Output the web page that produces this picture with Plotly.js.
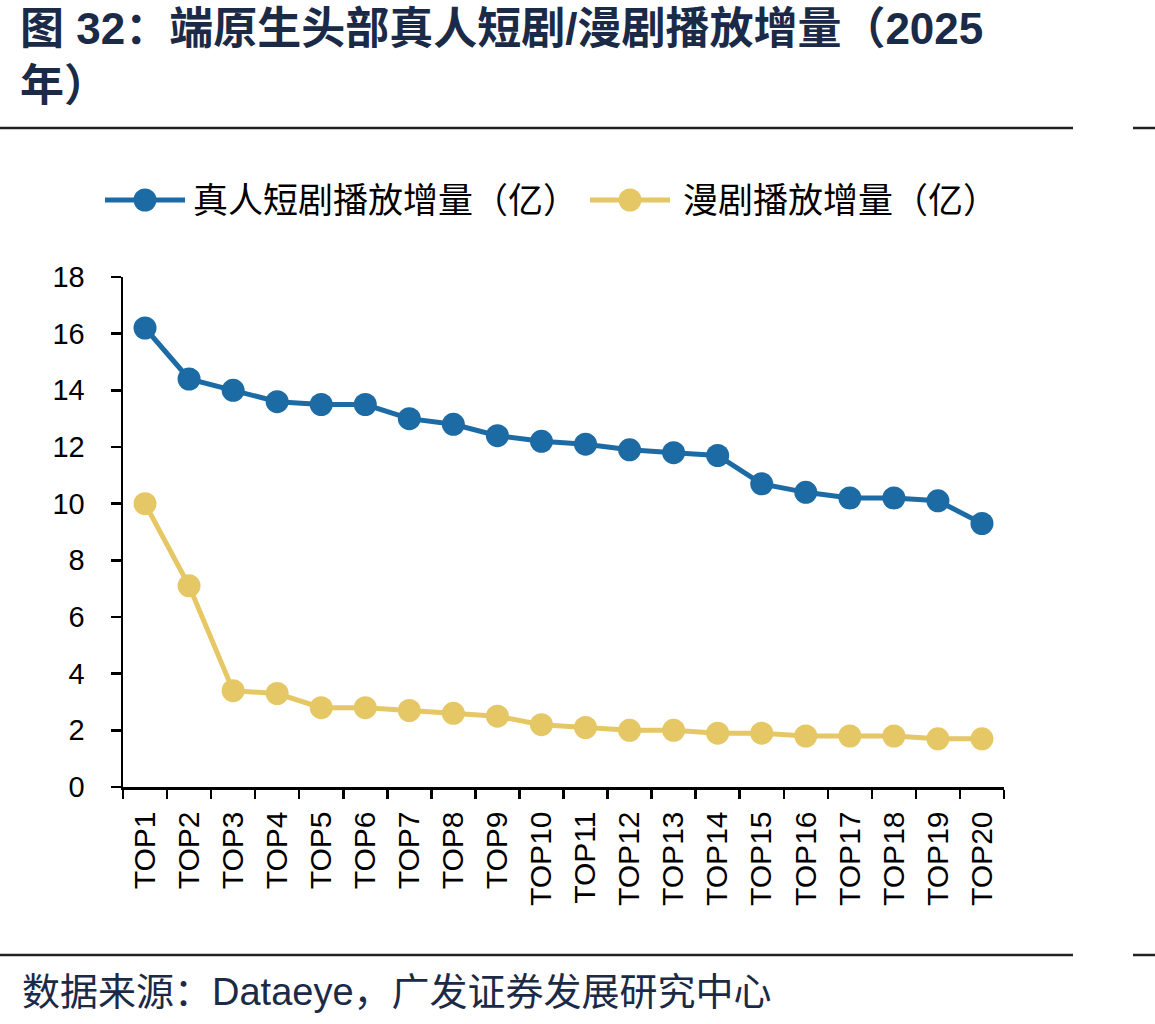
<!DOCTYPE html>
<html>
<head>
<meta charset="utf-8">
<script src="https://cdn.plot.ly/plotly-3.0.1.min.js"></script>
<style>
  html, body { margin: 0; padding: 0; background: #ffffff; }
  #chart { width: 1155px; height: 1024px; }
</style>
</head>
<body>
<div id="chart"></div>
<script>
// ---- Data ----
const categories = ["TOP1","TOP2","TOP3","TOP4","TOP5","TOP6","TOP7","TOP8","TOP9","TOP10",
                    "TOP11","TOP12","TOP13","TOP14","TOP15","TOP16","TOP17","TOP18","TOP19","TOP20"];
const liveActionViews = [16.2,14.4,14.0,13.6,13.5,13.5,13.0,12.8,12.4,12.2,
                         12.1,11.9,11.8,11.7,10.7,10.4,10.2,10.2,10.1,9.3];
const animeViews = [10.0,7.1,3.4,3.3,2.8,2.8,2.7,2.6,2.5,2.2,
                    2.1,2.0,2.0,1.9,1.9,1.8,1.8,1.8,1.7,1.7];
const seriesNames = ["真人短剧播放增量（亿）", "漫剧播放增量（亿）"];
const yTickValues = [0,2,4,6,8,10,12,14,16,18];
const titleText = "<b>图 32：端原生头部真人短剧/漫剧播放增量（2025<br>年）</b>";
const sourceText = "数据来源：Dataeye，广发证券发展研究中心";

// ---- Style ----
const BLUE = "#1c6ba5";
const YELLOW = "#e5c865";
const NAVY = "#1b2a47";
const CJK = "'Liberation Sans', Arial, 'Noto Sans CJK SC', sans-serif";

const W = 1155, H = 1024;
const M = { l: 123, r: 151, t: 277, b: 237 };
const PW = W - M.l - M.r, PH = H - M.t - M.b;
const px = x => (x - M.l) / PW;           // pixel x -> paper x
const py = y => (H - M.b - y) / PH;       // pixel y -> paper y

const traces = [
  {
    x: categories, y: liveActionViews, name: seriesNames[0],
    type: "scatter", mode: "lines+markers",
    line: { color: BLUE, width: 5 },
    marker: { color: BLUE, size: 23 },
    showlegend: false, cliponaxis: false
  },
  {
    x: categories, y: animeViews, name: seriesNames[1],
    type: "scatter", mode: "lines+markers",
    line: { color: YELLOW, width: 5 },
    marker: { color: YELLOW, size: 23 },
    showlegend: false, cliponaxis: false
  }
];

function legendShapes(x0, x1, yPix, color) {
  return [
    { type: "line", xref: "paper", yref: "paper",
      x0: px(x0), x1: px(x1), y0: py(yPix), y1: py(yPix),
      line: { color: color, width: 5 } },
    { type: "circle", xref: "paper", yref: "paper",
      xsizemode: "pixel", ysizemode: "pixel",
      xanchor: px((x0 + x1) / 2), yanchor: py(yPix),
      x0: -11.5, x1: 11.5, y0: -11.5, y1: 11.5,
      fillcolor: color, line: { width: 0 } }
  ];
}

const shapes = [
  // top rule
  { type: "line", xref: "paper", yref: "paper", x0: px(0), x1: px(1073), y0: py(128), y1: py(128),
    line: { color: "#222222", width: 2.5 } },
  { type: "line", xref: "paper", yref: "paper", x0: px(1133), x1: px(1155), y0: py(128), y1: py(128),
    line: { color: "#222222", width: 2.5 } },
  // bottom rule
  { type: "line", xref: "paper", yref: "paper", x0: px(0), x1: px(1073), y0: py(955), y1: py(955),
    line: { color: "#222222", width: 2.5 } },
  { type: "line", xref: "paper", yref: "paper", x0: px(1133), x1: px(1155), y0: py(955), y1: py(955),
    line: { color: "#222222", width: 2.5 } },
  ...legendShapes(105, 185, 200, BLUE),
  ...legendShapes(590, 670, 200, YELLOW)
];

const annotations = [
  { text: titleText, xref: "paper", yref: "paper", x: px(18), y: py(2),
    xanchor: "left", yanchor: "top", align: "left", showarrow: false,
    font: { family: CJK, size: 44, color: NAVY } },
  { text: seriesNames[0], xref: "paper", yref: "paper", x: px(191), y: py(200),
    xanchor: "left", yanchor: "middle", showarrow: false,
    font: { family: CJK, size: 35, color: "#000000" } },
  { text: seriesNames[1], xref: "paper", yref: "paper", x: px(681), y: py(200),
    xanchor: "left", yanchor: "middle", showarrow: false,
    font: { family: CJK, size: 35, color: "#000000" } },
  { text: sourceText, xref: "paper", yref: "paper", x: px(20), y: py(992),
    xanchor: "left", yanchor: "middle", showarrow: false,
    font: { family: CJK, size: 38, color: NAVY } }
];

const layout = {
  width: W, height: H,
  margin: M,
  paper_bgcolor: "#ffffff",
  plot_bgcolor: "#ffffff",
  showlegend: false,
  xaxis: {
    type: "category",
    range: [-0.5, categories.length - 0.5],
    showline: true, linecolor: "#000000", linewidth: 2.5,
    showgrid: false, zeroline: false,
    ticks: "outside", ticklen: 9, tickwidth: 2.5, tickcolor: "#000000",
    tickson: "boundaries",
    tickangle: -90,
    ticklabelstandoff: 10,
    tickfont: { family: CJK, size: 30, color: "#000000" }
  },
  yaxis: {
    range: [0, 18],
    tickvals: yTickValues,
    ticktext: yTickValues.map(String),
    showline: true, linecolor: "#000000", linewidth: 2.5,
    showgrid: false, zeroline: false,
    ticks: "outside", ticklen: 10, tickwidth: 2.5, tickcolor: "#000000",
    ticklabelstandoff: 20,
    tickfont: { family: CJK, size: 29, color: "#000000" }
  },
  shapes: shapes,
  annotations: annotations
};

Plotly.newPlot("chart", traces, layout, { staticPlot: true, displayModeBar: false });
</script>
</body>
</html>
